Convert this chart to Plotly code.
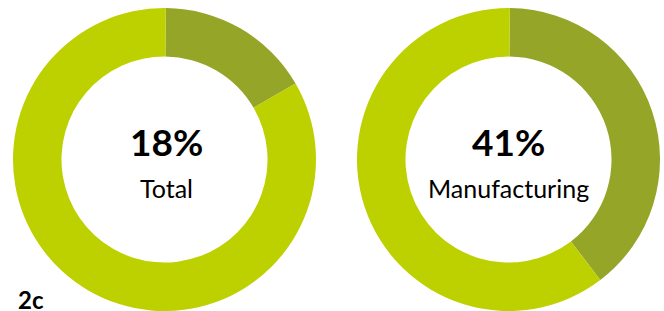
import plotly.graph_objects as go

W, H = 664, 311

labels = ["Share", "Rest"]
# arc sizes as drawn in the picture (printed labels below)
total_values = [16.5, 83.5]
manuf_values = [39.5, 60.5]
pct_labels = ["18%", "41%"]
names = ["Total", "Manufacturing"]
colors = ["#95A528", "#BDD000"]

fig = go.Figure()

domains = [
    dict(x=[13 / W, 316 / W], y=[0, 303 / H]),
    dict(x=[357 / W, 660 / W], y=[0, 303 / H]),
]
for vals, dom in zip([total_values, manuf_values], domains):
    fig.add_trace(go.Pie(
        labels=labels, values=vals, hole=0.68, sort=False,
        direction="clockwise", rotation=0.5,
        marker=dict(colors=colors, line=dict(width=0)),
        textinfo="none", hoverinfo="skip", domain=dom, showlegend=False,
    ))

centers_x = [166 / W, 508 / W]
for cx, p, n in zip(centers_x, pct_labels, names):
    fig.add_annotation(x=cx, y=1 - 141 / H, xref="paper", yref="paper",
                       text="<b>" + p + "</b>", showarrow=False,
                       font=dict(family="Lato", size=37, color="#000000"),
                       xanchor="center", yanchor="middle")
    fig.add_annotation(x=cx, y=1 - 188 / H, xref="paper", yref="paper",
                       text=n, showarrow=False,
                       font=dict(family="Lato", size=25, color="#000000"),
                       xanchor="center", yanchor="middle")

fig.add_annotation(x=16 / W, y=1 - 299 / H, xref="paper", yref="paper",
                   text="<b>2c</b>", showarrow=False,
                   font=dict(family="Lato", size=24, color="#000000"),
                   xanchor="left", yanchor="middle")

fig.update_layout(width=W, height=H, margin=dict(l=0, r=0, t=0, b=0),
                  paper_bgcolor="white", plot_bgcolor="white")

fig.write_html("out.html", config={"displayModeBar": False},
               post_script="document.body.style.margin='0';document.body.style.overflow='hidden';")
